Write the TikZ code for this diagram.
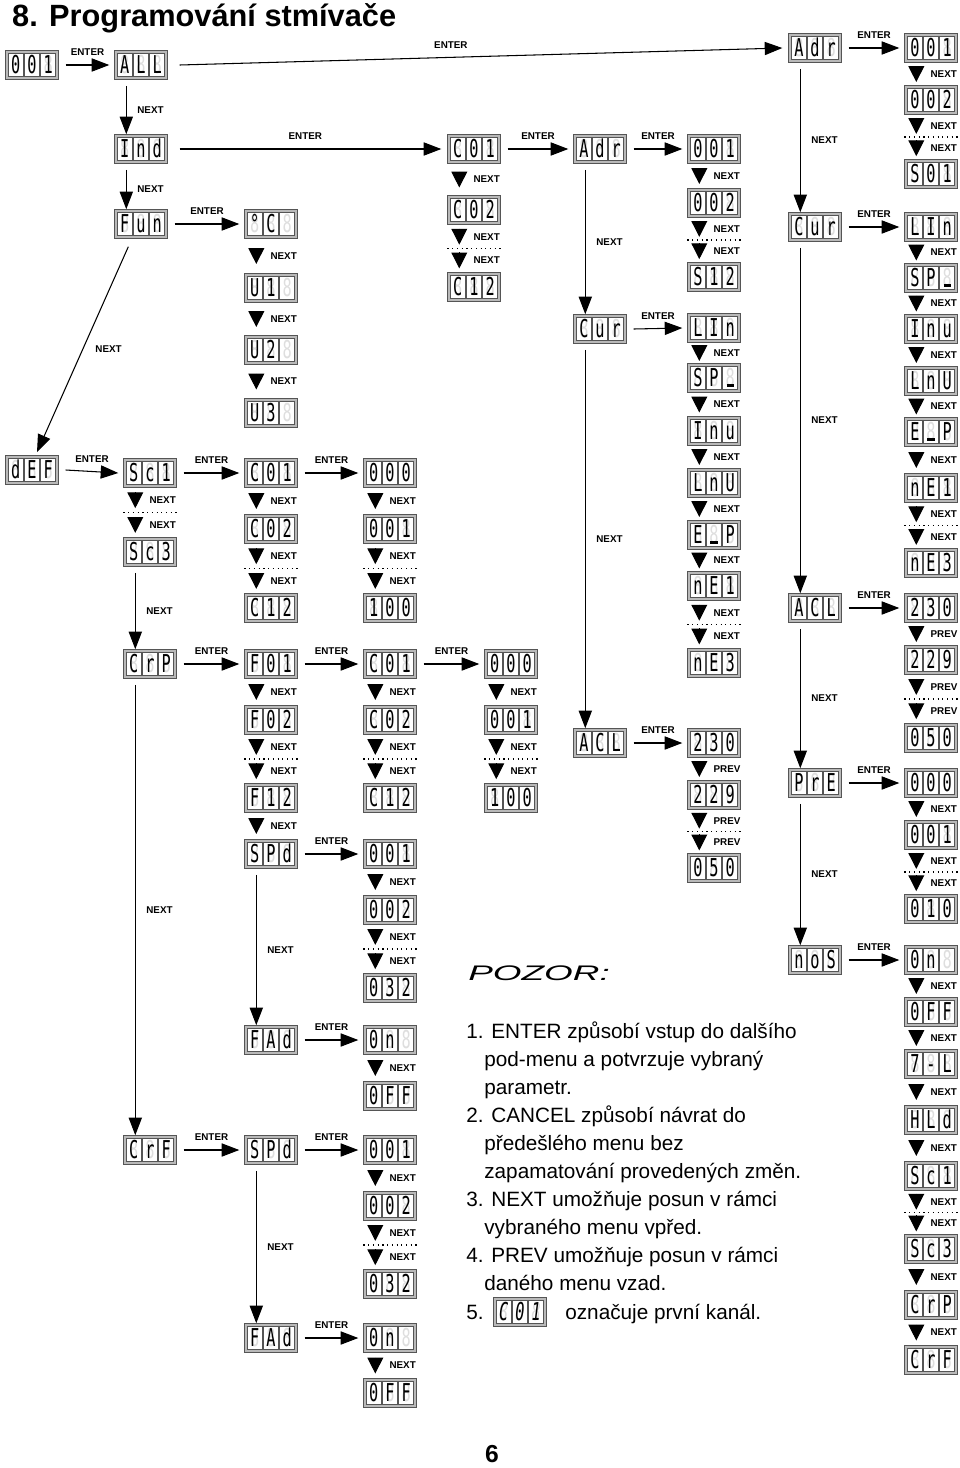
\documentclass[tikz,border=0pt]{standalone}
\usepackage{fontspec}
\setmainfont{Liberation Sans}
\newfontfamily\segfont{DejaVu Sans Mono}
\usepackage{graphicx}
\usetikzlibrary{positioning,arrows.meta,calc}
\definecolor{segGray}{RGB}{222,222,222}
\definecolor{segFrame}{RGB}{85,85,85}
\definecolor{segBack}{RGB}{185,185,185}

% one cell of the led display: faint 8 under the shown sign
\newcommand\seg[1]{{\setlength\fboxsep{0pt}\setlength\fboxrule{0.5pt}%
  \fcolorbox{segFrame}{white}{\makebox[8.2pt]{\rule[-1.6pt]{0pt}{13pt}%
  \scalebox{0.62}[1]{\makebox[0pt]{\textcolor{segGray}{8}}\makebox[0pt]{#1}}}}}}
% bottom segment alone
\newcommand\segbar{\rule{0.46em}{0.09em}}

\begin{document}
\begin{tikzpicture}[x=0.02cm,y=-0.02cm,
    disp/.style={draw=segFrame,fill=segBack,line width=0.6pt,inner sep=1.1pt,
      font=\segfont\fontsize{14}{14}\selectfont},
    lbl/.style={font=\bfseries\fontsize{5.6}{6}\selectfont,inner sep=1pt},
    enter/.style={line width=0.6pt,-{Triangle[length=10pt,width=7.5pt]}},
    lng/.style={line width=0.6pt,-{Triangle[length=10pt,width=7.5pt]}},
    nxt/.style={line width=0.6pt,-{Triangle[length=9pt,width=9pt]}},
    dots/.style={dotted,line width=0.7pt},
    note/.style={font=\fontsize{11.8}{14}\selectfont,inner sep=0pt}]
  \useasboundingbox (0,0) rectangle (960,1468);

  \node[anchor=base west,font=\bfseries\fontsize{17.5}{20}\selectfont] (title) at (6,26) {8. Programování stmívače};

  % displays
  \foreach \id/\x/\y/\a/\b/\c in {
    a1/32/65/0/0/1, a2/32/470/d/E/F,
    b1/141/65/A/L/L, b2/141/149/I/n/d, b3/141/224/F/u/n, b4/150/473/S/c/1,
    b5/150/552/S/c/3, b6/150/664/C/r/P, b7/150/1150/C/r/F,
    c1/271/224/°/C/{}, c2/271/288/U/1/{}, c3/271/350/U/2/{}, c4/271/413/U/3/{},
    c5/271/473/C/0/1, c6/271/529/C/0/2, c7/271/608/C/1/2, c8/271/664/F/0/1,
    c9/271/720/F/0/2, c10/271/798/F/1/2, c11/271/854/S/P/d, c12/271/1040/F/A/d,
    c13/271/1150/S/P/d, c14/271/1338/F/A/d,
    d1/390/473/0/0/0, d2/390/529/0/0/1, d3/390/608/1/0/0, d4/390/664/C/0/1,
    d5/390/720/C/0/2, d6/390/798/C/1/2, d7/390/854/0/0/1, d8/390/910/0/0/2,
    d9/390/988/0/3/2, d10/390/1040/0/n/{}, d11/390/1096/0/F/F, d12/390/1150/0/0/1,
    d13/390/1206/0/0/2, d14/390/1284/0/3/2, d15/390/1338/0/n/{}, d16/390/1393/0/F/F,
    e1/474/149/C/0/1, e2/474/210/C/0/2, e3/474/287/C/1/2,
    e4/511/664/0/0/0, e5/511/720/0/0/1, e6/511/798/1/0/0,
    f1/600/149/A/d/r, f2/600/329/C/u/r, f3/600/743/A/C/L,
    g1/714/149/0/0/1, g2/714/203/0/0/2, g3/714/277/S/1/2, g4/714/328/L/I/n,
    g5/714/378/S/P/\segbar, g6/714/431/I/n/u, g7/714/483/L/n/U, g8/714/535/E/\segbar/P,
    g9/714/586/n/E/1, g10/714/663/n/E/3, g11/714/743/2/3/0, g12/714/795/2/2/9,
    g13/714/868/0/5/0,
    h1/815/48/A/d/r, h2/815/227/C/u/r, h3/815/608/A/C/L, h4/815/783/P/r/E,
    h5/815/960/n/o/S,
    i1/931/48/0/0/1, i2/931/100/0/0/2, i3/931/174/S/0/1, i4/931/227/L/I/n,
    i5/931/278/S/P/\segbar, i6/931/329/I/n/u, i7/931/381/L/n/U, i8/931/432/E/\segbar/P,
    i9/931/488/n/E/1, i10/931/563/n/E/3, i11/931/608/2/3/0, i12/931/660/2/2/9,
    i13/931/738/0/5/0, i14/931/783/0/0/0, i15/931/835/0/0/1, i16/931/909/0/1/0,
    i17/931/960/0/n/{}, i18/931/1012/0/F/F, i19/931/1064/7/-/L, i20/931/1120/H/L/d,
    i21/931/1176/S/c/1, i22/931/1249/S/c/3, i23/931/1305/C/r/P, i24/931/1360/C/r/F}
    \node[disp] (\id) at (\x,\y) {\seg{\a}\seg{\b}\seg{\c}};

  % ENTER
  \foreach \u/\v in {a1/b1, b3/c1, a2/b4, b4/c5, c5/d1, b6/c8, c8/d4, d4/e4,
      c11/d7, c12/d10, b7/c13, c13/d12, c14/d15, e1/f1, f1/g1, f2/g4, f3/g11,
      h1/i1, h2/i4, h3/i11, h4/i14, h5/i17}
    \draw[enter] ($(\u.east)+(7,0)$) -- ($(\v.west)+(-5,0)$)
      node[lbl,midway,above=4pt] {ENTER};
  \draw[enter] ($(b1.east)+(12,0)$) -- ($(h1.west)+(-6,0)$)
    node[lbl,pos=0.45,above=4pt] {ENTER};
  \draw[enter] ($(b2.east)+(12,0)$) -- ($(e1.west)+(-6,0)$)
    node[lbl,pos=0.48,above=4pt] {ENTER};

  % long NEXT
  \foreach \u/\v in {b1/b2, b2/b3, b5/b6, b6/b7, c11/c12, c13/c14, f1/f2, f2/f3,
      h1/h2, h2/h3, h3/h4, h4/h5}
    \draw[lng] ($(\u.south west)+(12,6)$) -- ($(\v.north west)+(12,0)$)
      node[lbl,midway,right=5pt] {NEXT};
  \draw[lng] ($(b3.south west)+(14,8)$) -- ($(a2.north)+(5,-3)$)
    node[lbl,midway,right=6pt] {NEXT};

  % single steps
  \foreach \u/\v/\t in {c1/c2/NEXT, c2/c3/NEXT, c3/c4/NEXT, c5/c6/NEXT, c8/c9/NEXT,
      c10/c11/NEXT, d1/d2/NEXT, d4/d5/NEXT, d7/d8/NEXT, d10/d11/NEXT, d12/d13/NEXT,
      d15/d16/NEXT, e1/e2/NEXT, e4/e5/NEXT, g1/g2/NEXT, g4/g5/NEXT, g5/g6/NEXT,
      g6/g7/NEXT, g7/g8/NEXT, g8/g9/NEXT, g11/g12/PREV, i1/i2/NEXT, i4/i5/NEXT,
      i5/i6/NEXT, i6/i7/NEXT, i7/i8/NEXT, i8/i9/NEXT, i11/i12/PREV, i14/i15/NEXT,
      i17/i18/NEXT, i18/i19/NEXT, i19/i20/NEXT, i20/i21/NEXT, i22/i23/NEXT,
      i23/i24/NEXT}
    \draw[nxt] ($(\u.south west)!0.5!(\v.north west)+(12,-8)$) -- ++(0,16)
      node[lbl,anchor=west,shift={(12,-8)}] {\t};

  % steps over skipped values
  \foreach \u/\v/\t in {b4/b5/NEXT, c6/c7/NEXT, c9/c10/NEXT, d2/d3/NEXT, d5/d6/NEXT,
      d8/d9/NEXT, d13/d14/NEXT, e2/e3/NEXT, e5/e6/NEXT, g2/g3/NEXT, g9/g10/NEXT,
      g12/g13/PREV, i2/i3/NEXT, i9/i10/NEXT, i12/i13/PREV, i15/i16/NEXT,
      i21/i22/NEXT} {
    \coordinate (\u\v) at ($(\u.south west)!0.5!(\v.north west)$);
    \draw[dots] (\u\v) -- ++(55,0);
    \draw[nxt] ($(\u.south west)!0.5!(\u\v)+(12,-8)$) -- ++(0,16)
      node[lbl,anchor=west,shift={(12,-8)}] {\t};
    \draw[nxt] ($(\u\v)!0.5!(\v.north west)+(12,-8)$) -- ++(0,16)
      node[lbl,anchor=west,shift={(12,-8)}] {\t};
  }

  % notes
  \node[anchor=base west,font=\itshape\fontsize{12}{14}\selectfont,inner sep=0pt] (pozor)
    at (468,980) {\scalebox{1.75}[1]{POZOR:}};
  \foreach \x/\y/\t [count=\k] in {
      466/1038/{1. ENTER způsobí vstup do dalšího},
      484/1066/{pod-menu a potvrzuje vybraný},
      484/1094/{parametr.},
      466/1122/{2. CANCEL způsobí návrat do},
      484/1150/{předešlého menu bez},
      484/1178/{zapamatování provedených změn.},
      466/1206/{3. NEXT umožňuje posun v rámci},
      484/1234/{vybraného menu vpřed.},
      466/1262/{4. PREV umožňuje posun v rámci},
      484/1290/{daného menu vzad.}}
    \node[note,anchor=base west] (note\k) at (\x,\y) {\t};
  \node[note,anchor=base west] (note11) at (466,1319) {5.};
  \node[disp,font=\segfont\itshape\fontsize{14}{14}\selectfont] (key) at (520,1312)
    {\seg{C}\seg{0}\seg{1}};
  \node[note,anchor=base west] (note12) at (565,1319) {označuje první kanál.};

  \node[anchor=base,font=\bfseries\fontsize{14}{16}\selectfont,inner sep=0pt] (page) at (492,1462) {6};
\end{tikzpicture}
\end{document}
